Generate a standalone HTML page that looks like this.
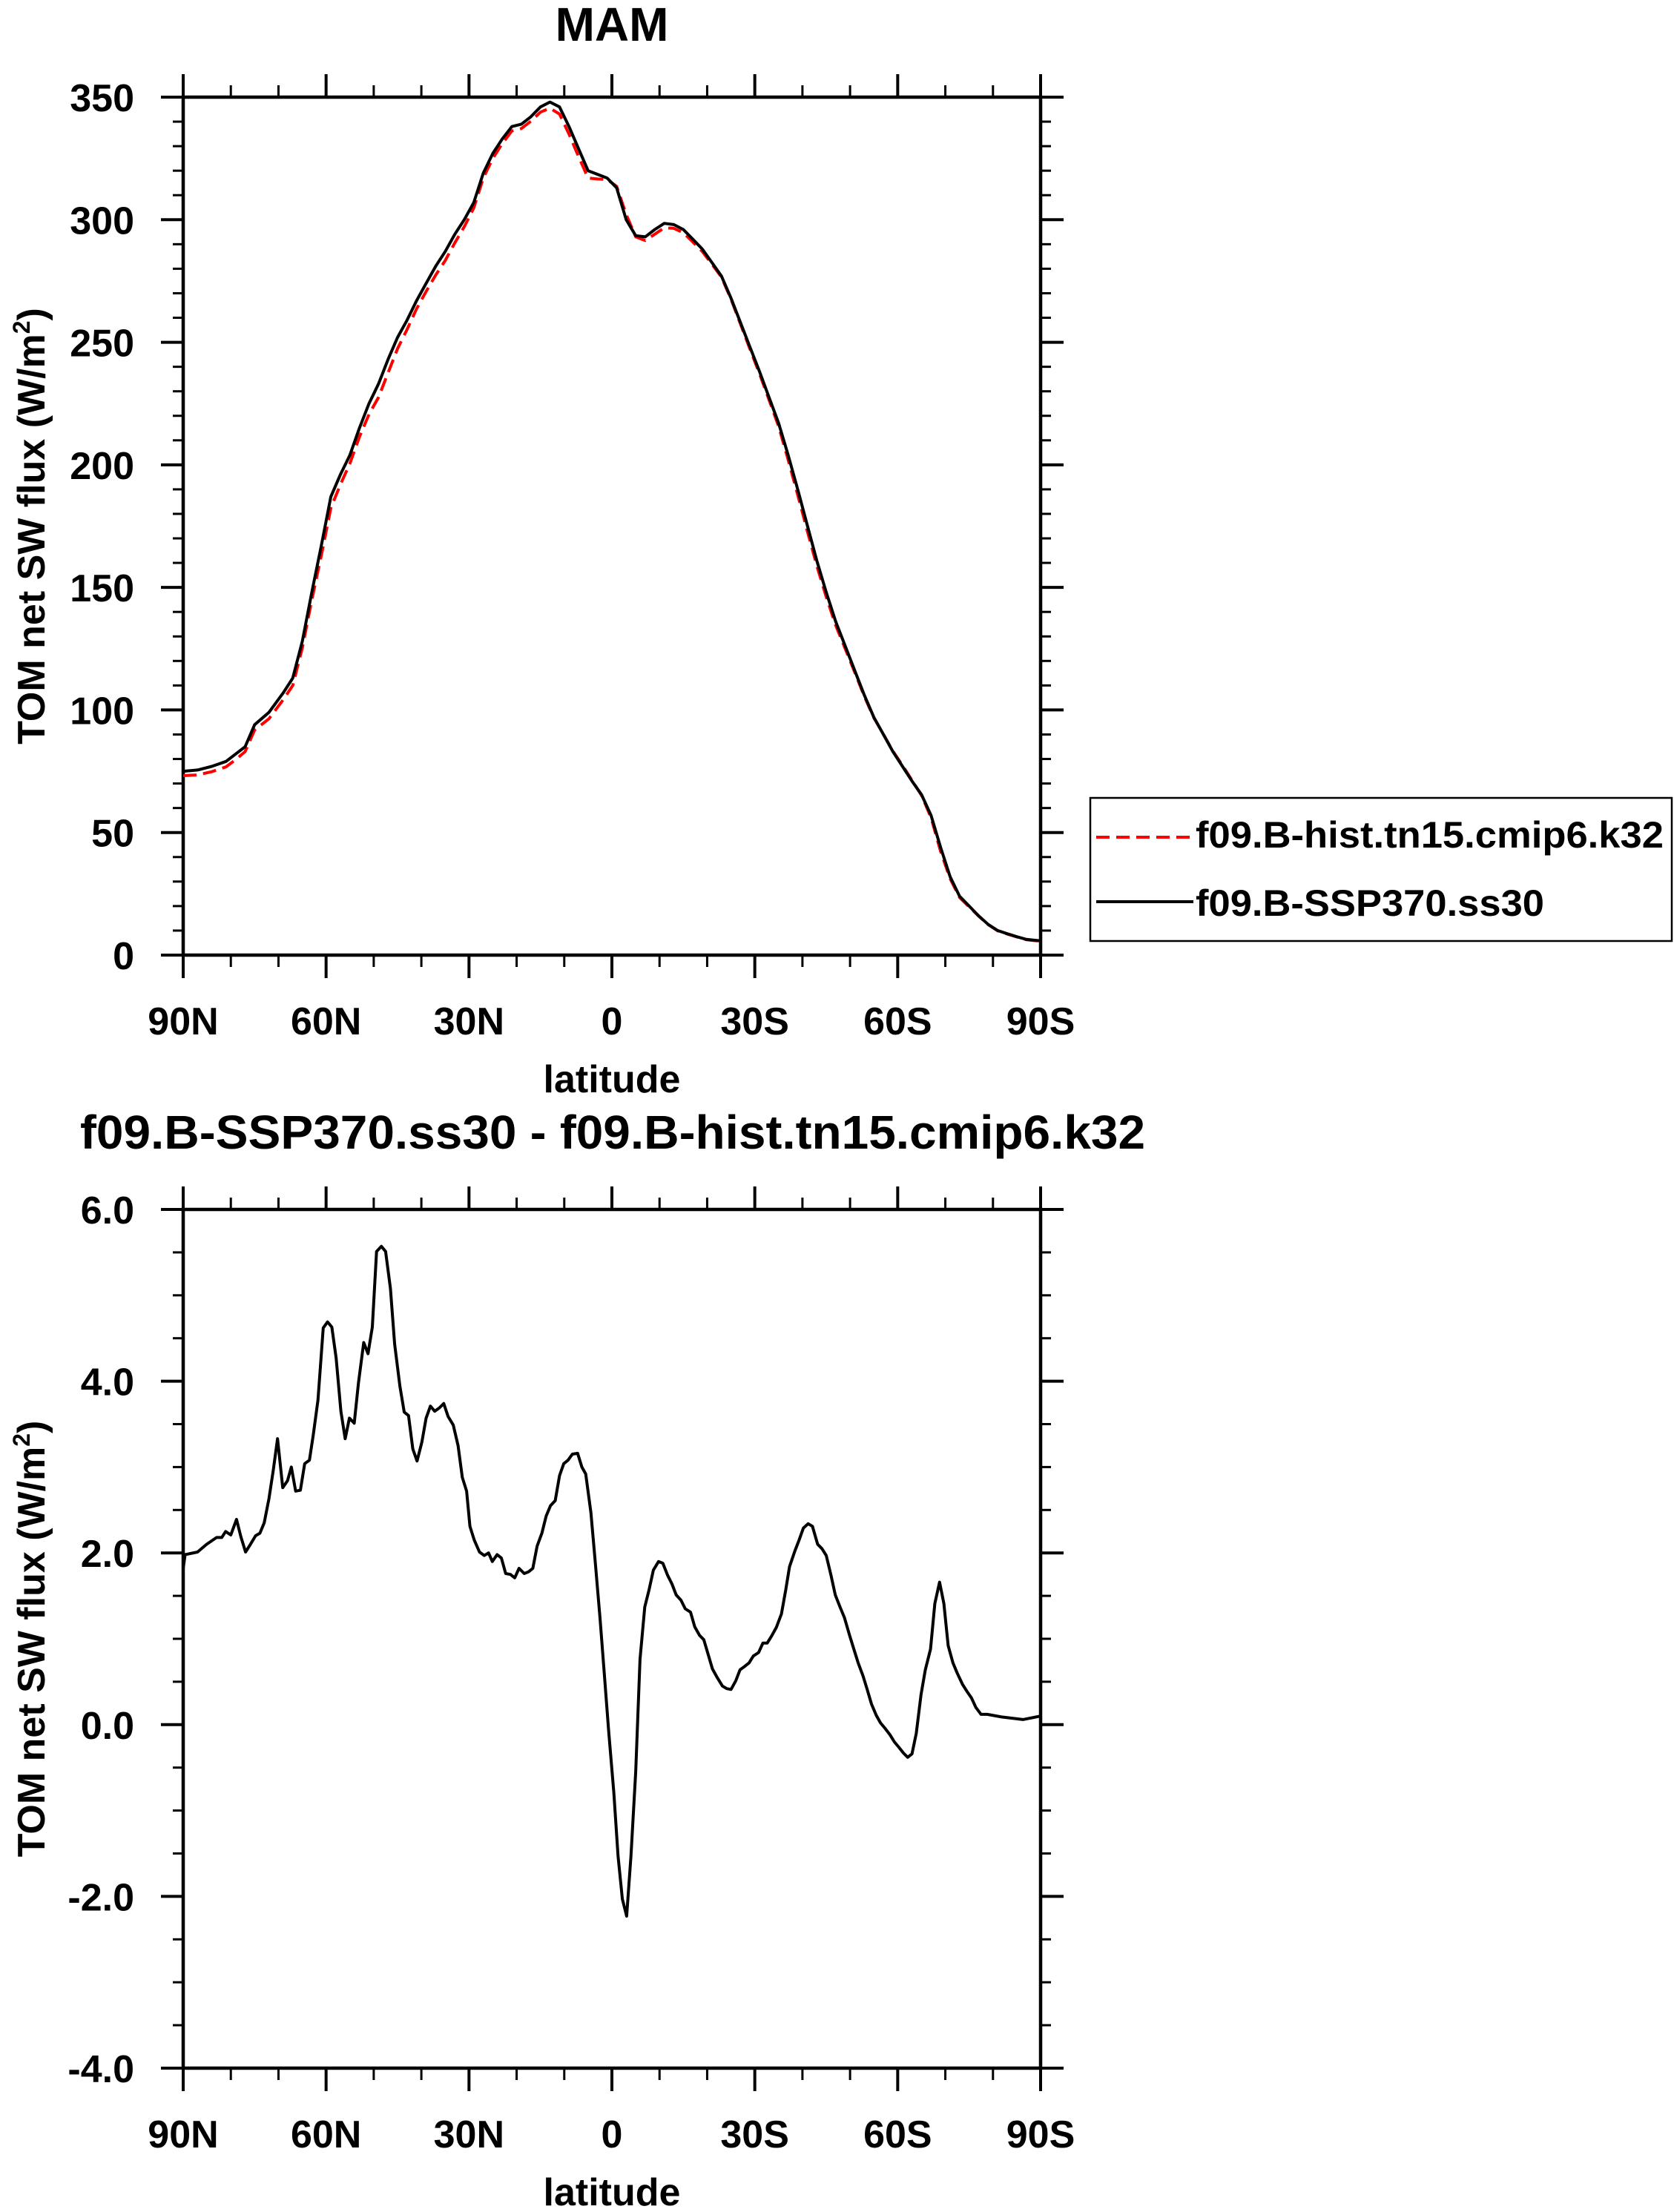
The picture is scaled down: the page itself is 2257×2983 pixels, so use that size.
<!DOCTYPE html>
<html><head><meta charset="utf-8"><style>
html,body{margin:0;padding:0;background:#fff;}
svg text{font-family:"Liberation Sans",Arial,sans-serif;font-weight:bold;fill:#000;}
</style></head><body>
<svg id="chart" width="2257" height="2978" viewBox="0 0 2257 2978" xmlns="http://www.w3.org/2000/svg">
<rect width="2257" height="2978" fill="#fff"/>
<text x="825" y="55" font-size="64" text-anchor="middle">MAM</text>
<text x="826" y="1549" font-size="64" text-anchor="middle" textLength="1436" lengthAdjust="spacingAndGlyphs">f09.B-SSP370.ss30 - f09.B-hist.tn15.cmip6.k32</text>
<g id="top"></g>
<g id="bot"></g>
<g>
<rect x="1470" y="1076" width="784" height="193" fill="none" stroke="#000" stroke-width="2.5"/>
<line x1="1478" y1="1129" x2="1609" y2="1129" stroke="#f00" stroke-width="4" stroke-dasharray="18,9"/>
<text x="1612" y="1143" font-size="50" textLength="631" lengthAdjust="spacingAndGlyphs">f09.B-hist.tn15.cmip6.k32</text>
<line x1="1478" y1="1216" x2="1609" y2="1216" stroke="#000" stroke-width="4"/>
<text x="1612" y="1235" font-size="50" textLength="470" lengthAdjust="spacingAndGlyphs">f09.B-SSP370.ss30</text>
</g>
</svg>
<script>
const topLat = [90,87,84,81,79,77,75,72,69,67,65,63,61,59,57,55,53,51,49,47,45,43,41,39,37,35,33,31,29,27,25,23,21,19,17,15,13,11,9,7,5,3,1,-1,-3,-5,-7,-9,-11,-13,-15,-17,-19,-21,-23,-25,-27,-29,-31,-33,-35,-37,-39,-41,-43,-45,-47,-49,-51,-53,-55,-57,-59,-61,-63,-65,-67,-69,-71,-73,-75,-77,-79,-81,-83,-85,-87,-90];
const sspValues = [75,75.5,77,79,82,85,94,99,107,113,128,148,167,187,196,204,215,225,233,243,252,259,267,274,281,287,294,300,307,319,327,333,338,339,342,346,348,346,338,329,320,318.5,317,313,300,293.5,293,296,298.5,298,296,292,288,282.5,277,268,258,248,238,227.5,217,204,190,175.5,161,148,136,126,116,106,97,90,83,77,71,65.5,57,44,32,24,20,16,12.5,10,8.7,7.5,6.4,5.8];
const histValues = [73.2,73.5,74.8,76.8,79.7,83,91.8,96.4,104.2,110,125.3,144.9,163,182.4,191.9,200.6,211.4,220.6,227.5,237.5,247.4,255.2,263.7,270.7,277.4,283.3,290.5,297.1,304.8,317,325,331.1,336.2,337.2,340.2,343.9,345.5,343.1,334.9,325.8,317,316.6,316.4,313.6,302.1,293,291.5,294.1,296.7,296.5,294.7,290.9,287,281.8,276.6,267.6,257.4,247.2,237.1,226.5,215.7,202.1,187.8,173.2,158.9,146.1,134.5,124.9,115.3,105.5,96.8,90.1,83.2,77.4,71.3,65.2,56.1,42.4,31.2,23.5,19.7,15.9,12.4,9.9,8.6,7.4,6.3,5.7];
const diffLat = [90,89.6,87,85.1,83,81.9,81.1,80,78.8,77.9,76.9,76,74.8,73.9,73,72,71.1,70.2,69.1,68.1,67.3,66.4,65.4,64.5,63.5,62.7,61.7,60.6,59.7,58.8,57.9,56.9,56,55.1,54.1,53.2,52.1,51.2,50.3,49.4,48.4,47.5,46.5,45.6,44.5,43.6,42.7,41.8,40.9,39.9,39,38.1,37.2,36.2,35.3,34.4,33.3,32.3,31.4,30.5,29.8,28.9,27.8,26.8,25.9,25.1,24.1,23.2,22.3,21.3,20.4,19.5,18.4,17.5,16.6,15.7,14.7,13.8,12.9,11.9,11,10.1,9.2,8.3,7.2,6.3,5.5,4.4,3.5,2.5,1.6,0.7,-0.4,-1.3,-2.2,-3.1,-4,-5,-5.9,-6.9,-7.8,-8.7,-9.8,-10.7,-11.7,-12.6,-13.5,-14.5,-15.4,-16.5,-17.4,-18.4,-19.3,-20.2,-21.1,-22.1,-23.2,-24.1,-25,-26,-26.9,-27.9,-28.8,-29.7,-30.8,-31.7,-32.6,-33.6,-34.5,-35.6,-36.5,-37.3,-38.4,-39.3,-40.2,-41.2,-42.1,-43.2,-44.1,-45,-46,-46.9,-47.9,-48.8,-49.9,-50.8,-51.7,-52.7,-53.6,-54.5,-55.5,-56.4,-57.3,-58.4,-59.3,-60.2,-61.2,-62.1,-63,-63.9,-64.9,-65.8,-66.9,-67.8,-68.8,-69.7,-70.6,-71.6,-72.5,-73.6,-74.5,-75.5,-76.4,-77.5,-78.8,-81.8,-86.3,-90];
const diffValues = [1.82,1.98,2.01,2.1,2.18,2.18,2.25,2.21,2.39,2.19,2.01,2.09,2.2,2.23,2.35,2.63,2.96,3.33,2.76,2.84,3.0,2.72,2.73,3.04,3.08,3.37,3.78,4.62,4.69,4.63,4.27,3.65,3.33,3.57,3.51,3.98,4.45,4.32,4.63,5.51,5.57,5.51,5.08,4.43,3.94,3.64,3.6,3.21,3.07,3.29,3.57,3.71,3.65,3.69,3.74,3.59,3.49,3.25,2.88,2.72,2.31,2.15,2.01,1.97,2.0,1.9,1.98,1.94,1.76,1.75,1.71,1.82,1.76,1.78,1.82,2.08,2.23,2.43,2.55,2.61,2.9,3.04,3.08,3.15,3.16,3.0,2.92,2.47,1.9,1.25,0.6,-0.06,-0.79,-1.53,-2.03,-2.23,-1.53,-0.55,0.76,1.37,1.57,1.8,1.9,1.88,1.74,1.64,1.51,1.45,1.35,1.31,1.14,1.04,0.99,0.82,0.65,0.55,0.45,0.42,0.41,0.51,0.64,0.68,0.72,0.8,0.84,0.95,0.95,1.04,1.13,1.29,1.57,1.84,2.02,2.15,2.29,2.34,2.31,2.1,2.05,1.97,1.74,1.51,1.37,1.25,1.04,0.88,0.72,0.57,0.41,0.24,0.11,0.02,-0.04,-0.12,-0.2,-0.26,-0.33,-0.38,-0.34,-0.1,0.35,0.64,0.88,1.41,1.66,1.41,0.92,0.72,0.6,0.47,0.39,0.31,0.2,0.12,0.12,0.09,0.06,0.1];
const xTickVals = [90,60,30,0,-30,-60,-90];
const xTickLabels = ["90N","60N","30N","0","30S","60S","90S"];
const topYTicks = [0,50,100,150,200,250,300,350];
const botYTicks = [-4,-2,0,2,4,6];
const botYTickLabels = ["-4.0","-2.0","0.0","2.0","4.0","6.0"];

const NS='http://www.w3.org/2000/svg';
const X0=247, X1=1403;
function xs(lat){return X0+(90-lat)/180*(X1-X0);}
function mk(tag,attrs,parent){const e=document.createElementNS(NS,tag);for(const k in attrs)e.setAttribute(k,attrs[k]);parent.appendChild(e);return e;}

function panel(g, yTop, yBot, vMin, vMax, majors, majorLabels, minorStep, labelBaseDy){
  const ys=v=>yBot-(v-vMin)/(vMax-vMin)*(yBot-yTop);
  // minor y ticks
  for(let v=vMin; v<=vMax+1e-9; v+=minorStep){
    const y=ys(v);
    let l=mk('line',{x1:X0-14,y1:y,x2:X0,y2:y,stroke:'#000','stroke-width':3},g);
    
    
    l=mk('line',{x1:X1,y1:y,x2:X1+14,y2:y,stroke:'#000','stroke-width':3},g);
    
    
  }
  majors.forEach((v,i)=>{
    const y=ys(v);
    let l=mk('line',{x1:X0-30,y1:y,x2:X0,y2:y,stroke:'#000','stroke-width':4},g);
    
    
    l=mk('line',{x1:X1,y1:y,x2:X1+31,y2:y,stroke:'#000','stroke-width':4},g);
    
    
    const t=mk('text',{x:181,y:y+19,'font-size':52,'text-anchor':'end'},g);
    t.textContent=majorLabels[i];
    
    
  });
  for(let lat=90; lat>=-90; lat-=10){
    const x=xs(lat); const major=(lat%30===0);
    const len=major?31:16;
    let l=mk('line',{x1:x,y1:yBot,x2:x,y2:yBot+len,stroke:'#000','stroke-width':major?4:3},g);
    
    
    l=mk('line',{x1:x,y1:yTop-len,x2:x,y2:yTop,stroke:'#000','stroke-width':major?4:3},g);
    
    
  }
  xTickVals.forEach((v,i)=>{
    const t=mk('text',{x:xs(v),y:yBot+107,'font-size':52,'text-anchor':'middle'},g);
    t.textContent=xTickLabels[i];
    
    
  });
  const xl=mk('text',{x:825,y:yBot+185,'font-size':52,'text-anchor':'middle'},g);
  xl.textContent='latitude';
  
  
  const cy=(yTop+yBot)/2;
  const yl=mk('text',{x:60,y:cy,'font-size':52,'text-anchor':'middle',transform:`rotate(-90 60 ${cy})`},g);
  
  
  const t1=mk('tspan',{},yl); t1.textContent='TOM net SW flux (W/m';
  const t2=mk('tspan',{'font-size':32,dy:-20},yl); t2.textContent='2';
  const t3=mk('tspan',{dy:20},yl); t3.textContent=')';
  const fr=mk('rect',{x:X0,y:yTop,width:X1-X0,height:yBot-yTop,fill:'none',stroke:'#000','stroke-width':4.5},g);
  
  
  return ys;
}
function path(lats,vals,ys){return lats.map((la,i)=>(i?'L':'M')+xs(la).toFixed(1)+','+ys(vals[i]).toFixed(1)).join(' ');}

const gT=document.getElementById('top');
const ysT=panel(gT,131,1288,0,350,topYTicks,topYTicks.map(String),10);
let p=mk('path',{d:path(topLat,histValues,ysT),fill:'none',stroke:'#f00','stroke-width':4,'stroke-dasharray':'18,9','stroke-linejoin':'round'},gT);


p=mk('path',{d:path(topLat,sspValues,ysT),fill:'none',stroke:'#000','stroke-width':4,'stroke-linejoin':'round'},gT);



const gB=document.getElementById('bot');
const ysB=panel(gB,1631,2789,-4,6,botYTicks,botYTickLabels,0.5);
p=mk('path',{d:path(diffLat,diffValues,ysB),fill:'none',stroke:'#000','stroke-width':4,'stroke-linejoin':'round'},gB);


</script>
</body></html>
